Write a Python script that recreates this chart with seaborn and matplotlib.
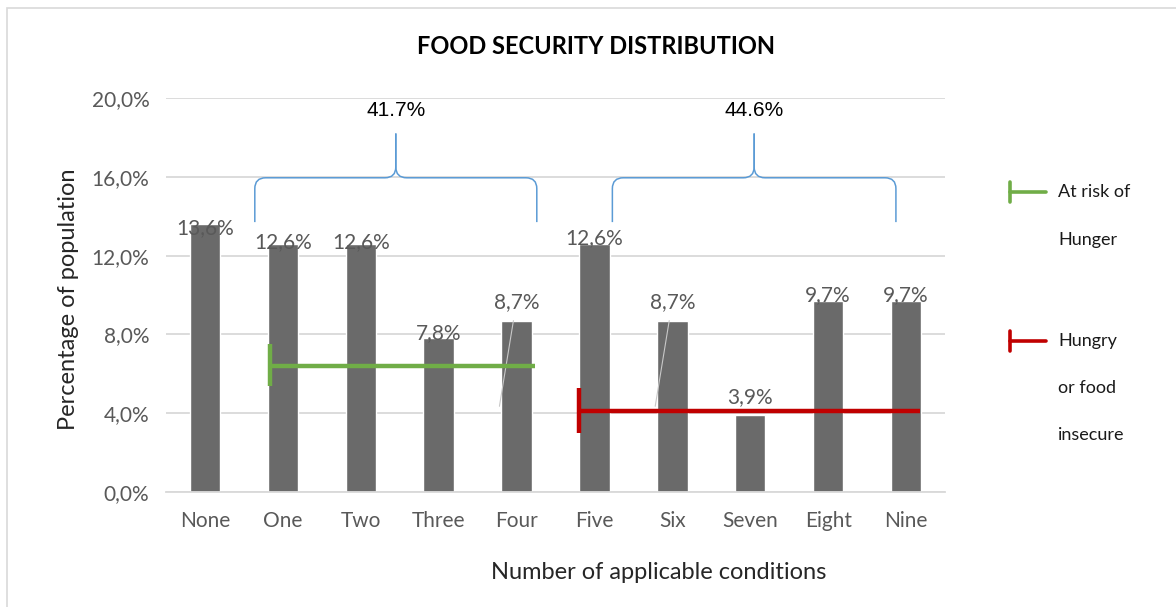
import matplotlib
matplotlib.use("Agg")
import matplotlib.pyplot as plt
from matplotlib.path import Path
from matplotlib.patches import PathPatch, Rectangle
import seaborn as sns

# ---- data -------------------------------------------------------------
categories = ["None", "One", "Two", "Three", "Four",
              "Five", "Six", "Seven", "Eight", "Nine"]
values = [13.6, 12.6, 12.6, 7.8, 8.7, 12.6, 8.7, 3.9, 9.7, 9.7]
value_labels = ["13,6%", "12,6%", "12,6%", "7,8%", "8,7%",
                "12,6%", "8,7%", "3,9%", "9,7%", "9,7%"]
y_ticks = [0, 4, 8, 12, 16, 20]
y_tick_labels = ["0,0%", "4,0%", "8,0%", "12,0%", "16,0%", "20,0%"]

group_totals = ["41.7%", "44.6%"]
group_spans = [(1, 4), (5, 9)]          # first/last category index per group
risk_level = 6.4                        # "At risk of hunger" bracket level
insecure_level = 4.1                    # "Hungry or food insecure" bracket level

# ---- style ------------------------------------------------------------
sns.set_theme(style="white")
plt.rcParams["font.family"] = ["Lato", "DejaVu Sans"]

BAR = "#6a6a6a"
TXT = "#595959"
GRID = "#d9d9d9"
GREEN = "#70ad47"
RED = "#c00000"
BLUE = "#5b9bd5"

W, H = 1176, 607
fig = plt.figure(figsize=(W / 100, H / 100), dpi=100)


def fx(px):
    return px / W


def fy(py):
    return 1 - py / H


ax = fig.add_axes([fx(166), fy(492), fx(945) - fx(166), fy(98) - fy(492)])

sns.barplot(x=categories, y=values, color=BAR, width=0.39, ax=ax,
            saturation=1, zorder=2)

ax.set_ylim(0, 20)
ax.set_xlim(-0.5, len(categories) - 0.5)
ax.set_yticks(y_ticks)
ax.set_yticklabels(y_tick_labels)
ax.yaxis.grid(True, color=GRID, linewidth=1.3, zorder=0)
ax.set_axisbelow(True)
for s in ["top", "right", "left"]:
    ax.spines[s].set_visible(False)
ax.spines["bottom"].set_color(GRID)
ax.spines["bottom"].set_linewidth(1.3)
ax.tick_params(axis="both", length=0, labelsize=15, colors=TXT)
ax.tick_params(axis="y", pad=12)
ax.tick_params(axis="x", pad=14)

ax.set_xlabel("Number of applicable conditions", fontsize=17,
              color="#262626")
ax.xaxis.set_label_coords(0.632, -0.178)
ax.set_ylabel("Percentage of population", fontsize=17,
              color="#262626")
ax.yaxis.set_label_coords(-0.112, 0.49)

# value labels above each bar
label_lift = [-0.2, 0.1, 0.1, 0.27, 0.94, 0.3, 0.94, 0.92, 0.3, 0.3]
for i, (v, lab) in enumerate(zip(values, value_labels)):
    ax.text(i, v + label_lift[i], lab, ha="center", va="center",
            fontsize=15, color=TXT, zorder=5)

# faint leader lines for the lifted labels
for i in (4, 6):
    ax.plot([i - 0.04, i - 0.22], [values[i], values[i] - 4.35],
            color="#c8c8c8", lw=0.8, zorder=3)


def brace(x0, x1, yb, yh, ytip, rx=0.14, ry=0.55):
    xm = (x0 + x1) / 2
    for a, sgn in ((x0, 1), (x1, -1)):
        verts = [(a, yb), (a, yh - ry), (a, yh), (a + sgn * rx, yh),
                 (xm - sgn * rx, yh), (xm, yh), (xm, yh + ry), (xm, ytip)]
        codes = [Path.MOVETO, Path.LINETO, Path.CURVE3, Path.CURVE3,
                 Path.LINETO, Path.CURVE3, Path.CURVE3, Path.LINETO]
        ax.add_patch(PathPatch(Path(verts, codes), fill=False,
                               edgecolor=BLUE, lw=1.1, clip_on=False,
                               zorder=4))
    return xm


brace_pad = [(-0.36, 0.26), (0.23, -0.13)]
for (a, b), (pl, pr), total in zip(group_spans, brace_pad, group_totals):
    xm = brace(a + pl, b + pr, 13.7, 15.95, 18.2)
    ax.text(xm, 19.35, total, ha="center", va="center", fontsize=15,
            color="black", family=["Liberation Sans", "DejaVu Sans"])

# level brackets across the conditions
ax.plot([group_spans[0][0] - 0.17, group_spans[0][1] + 0.24],
        [risk_level, risk_level], color=GREEN, lw=3.2, zorder=4,
        solid_capstyle="butt")
ax.plot([group_spans[0][0] - 0.17] * 2, [risk_level - 1.0, risk_level + 1.1],
        color=GREEN, lw=3.2, zorder=4, solid_capstyle="butt")
ax.plot([group_spans[1][0] - 0.2, group_spans[1][1] + 0.18],
        [insecure_level, insecure_level], color=RED, lw=3.2, zorder=4,
        solid_capstyle="butt")
ax.plot([group_spans[1][0] - 0.2] * 2,
        [insecure_level - 1.1, insecure_level + 1.2],
        color=RED, lw=3.2, zorder=4, solid_capstyle="butt")

# title
fig.text(fx(596), fy(46), "FOOD SECURITY DISTRIBUTION", ha="center",
         va="center", fontsize=17, fontweight="bold", color="black")

# legend drawn beside the plot
def legend_mark(py, color):
    fig.add_artist(plt.Line2D([fx(1010), fx(1046)], [fy(py), fy(py)],
                              color=color, lw=2.6, transform=fig.transFigure))
    fig.add_artist(plt.Line2D([fx(1010), fx(1010)], [fy(py - 10), fy(py + 10)],
                              color=color, lw=2.6, transform=fig.transFigure))


legend_mark(192, GREEN)
legend_mark(341, RED)
for py, t in [(192, "At risk of"), (240, "Hunger"), (341, "Hungry"),
              (388, "or food"), (435, "insecure")]:
    fig.text(fx(1058), fy(py), t, ha="left", va="center", fontsize=13,
             color="#1a1a1a")

# chart frame
fig.add_artist(Rectangle((fx(7), fy(640)), fx(1200), fy(8) - fy(640),
                         transform=fig.transFigure, fill=False,
                         edgecolor=GRID, lw=1.2))

fig.savefig("out.png", dpi=100)
